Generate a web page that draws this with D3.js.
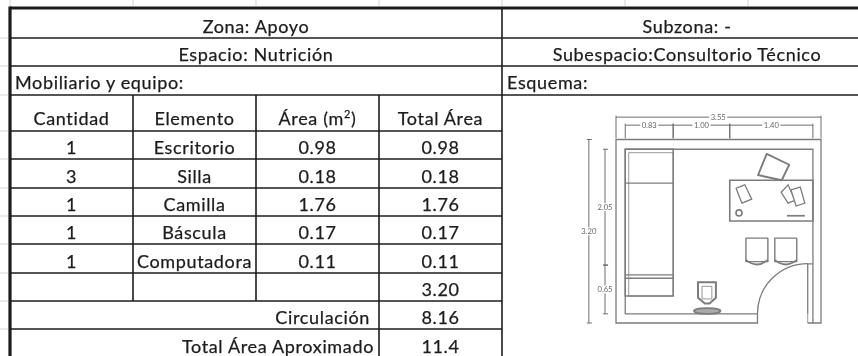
<!DOCTYPE html>
<html>
<head>
<meta charset="utf-8">
<script src="https://cdn.jsdelivr.net/npm/d3@7"></script>
<style>
  html, body { margin: 0; padding: 0; background: #fff; overflow: hidden; }
  svg { display: block; filter: blur(0.55px); font-family: Lato, "Open Sans", sans-serif; }
</style>
</head>
<body>
<div id="chart"></div>
<script>
// table content
const headers = ['Cantidad', 'Elemento', 'Área (m²)', 'Total Área'];
const cantidades = ['1', '3', '1', '1', '1', '', '', ''];
const elementos = ['Escritorio', 'Silla', 'Camilla', 'Báscula', 'Computadora', '', '', ''];
const areas = ['0.98', '0.18', '1.76', '0.17', '0.11', '', '', ''];
const totales = ['0.98', '0.18', '1.76', '0.17', '0.11', '3.20', '8.16', '11.4'];
const rowNames = ['zona', 'espacio', 'mobiliario', 'head', 'r0', 'r1', 'r2', 'r3', 'r4', 'r5', 'r6', 'r7'];
const rowBottoms = [38, 66, 95, 131, 159, 188, 216, 244, 273, 301, 329, 358];

// floor plan, everything in metres from the outer wall corner
const bedLines = [0.76, 2.36, 2.42];
const chairBack = [[2.61, 0.25], [3.00, 0.44], [2.87, 0.71], [2.46, 0.62]];
const tablet = [[2.08, 0.85], [2.23, 0.79], [2.35, 1.04], [2.18, 1.11]];
const paperBack = [[2.86, 0.92], [2.98, 0.79], [3.10, 1.06], [2.98, 1.11]];
const paperFront = [[3.03, 0.88], [3.19, 0.83], [3.27, 1.11], [3.12, 1.16]];
const seats = [[2.25, 2.63], [2.75, 3.13]];
const scaleBody = [[1.42, 2.49], [1.73, 2.49], [1.73, 2.76], [1.62, 2.86], [1.54, 2.86], [1.42, 2.76]];
const scaleInner = [[1.49, 2.56], [1.66, 2.56], [1.66, 2.78], [1.49, 2.78]];
const topDims = [[0.16, 0.99, '0.83'], [0.99, 1.97, '1.00'], [1.97, 3.41, '1.40']];
const sideDims = [[0.17, 2.19, '2.05'], [2.19, 3.04, '0.65']];

const width = 858, height = 356;
const LEFT = 10, SPLIT = 502, TOP = 8;
const INK = '#1c1c1c', PLAN = '#7c7c7c';

const svg = d3.select('#chart').append('svg').attr('width', width).attr('height', height);

const xCol = d3.scaleBand().domain(headers).range([LEFT, SPLIT]);
const yBottom = d3.scaleOrdinal().domain(rowNames).range(rowBottoms);
const planX = d3.scaleLinear().domain([0, 3.55]).range([616, 821]);
const planY = d3.scaleLinear().domain([0, 3.20]).range([139.5, 323]);

// spreadsheet gridline stubs outside the table
const stubs = svg.append('g').attr('stroke', '#d4d4d4').attr('stroke-width', 1);
[LEFT, ...headers.slice(1).map(xCol), SPLIT, 625, 748].forEach((x) => {
  stubs.append('line').attr('x1', x).attr('x2', x).attr('y1', 0).attr('y2', TOP - 2);
});
rowBottoms.slice(0, 11).forEach((y) => {
  stubs.append('line').attr('x1', 0).attr('x2', LEFT - 2).attr('y1', y).attr('y2', y);
});

// table rules
const rules = svg.append('g').attr('stroke', INK).attr('stroke-width', 1.6);
function hline(y, x1, x2) {
  rules.append('line').attr('x1', x1).attr('x2', x2).attr('y1', y).attr('y2', y);
}
function vline(x, y1, y2) {
  rules.append('line').attr('x1', x).attr('x2', x).attr('y1', y1).attr('y2', y2);
}
['zona', 'espacio', 'mobiliario'].forEach((r) => hline(yBottom(r), LEFT, width));
['head', 'r0', 'r1', 'r2', 'r3', 'r4', 'r5', 'r6'].forEach((r) => hline(yBottom(r), LEFT, SPLIT));
headers.slice(1, 3).forEach((h) => vline(xCol(h), yBottom('mobiliario'), yBottom('r5')));
vline(xCol(headers[3]), yBottom('mobiliario'), height);
vline(SPLIT, TOP, height);
rules.append('line').attr('x1', LEFT).attr('x2', LEFT).attr('y1', TOP - 1.5).attr('y2', height).attr('stroke-width', 3.2);
rules.append('line').attr('x1', LEFT).attr('x2', width).attr('y1', TOP).attr('y2', TOP).attr('stroke-width', 3.2);

// table text
const labels = svg.append('g').attr('fill', INK).attr('stroke', INK).attr('stroke-width', 0.25)
  .attr('font-size', 18).attr('letter-spacing', 0.65);
function label(text, x, row, anchor = 'middle') {
  const off = ['mobiliario', 'head'].includes(row) ? 6.5 : 5.5;
  return labels.append('text').attr('x', x).attr('y', yBottom(row) - off)
    .attr('text-anchor', anchor).text(text);
}
const colMid = (h) => xCol(h) + xCol.bandwidth() / 2;

label('Zona: Apoyo', (LEFT + SPLIT) / 2, 'zona');
label('Espacio: Nutrición', (LEFT + SPLIT) / 2, 'espacio');
label('Mobiliario y equipo:', 15, 'mobiliario', 'start');
label('Subzona: -', 687, 'zona');
label('Subespacio:Consultorio Técnico', 687, 'espacio');
label('Esquema:', 507, 'mobiliario', 'start');

headers.forEach((h) => {
  if (h.includes('²')) {
    const t = label('', colMid(h), 'head');
    t.append('tspan').text('Área (m');
    t.append('tspan').attr('dy', -7).attr('font-size', 11).text('2');
    t.append('tspan').attr('dy', 7).text(')');
  } else {
    label(h, colMid(h), 'head');
  }
});
[cantidades, elementos, areas, totales].forEach((col, i) => {
  col.forEach((v, j) => { if (v) label(v, colMid(headers[i]), `r${j}`); });
});
label('Circulación', 370, 'r6', 'end');
label('Total Área Aproximado', 374, 'r7', 'end');

// floor plan
const plan = svg.append('g').attr('fill', 'none').attr('stroke', PLAN).attr('stroke-width', 1.3);
const polyline = d3.line().x((d) => planX(d[0])).y((d) => planY(d[1]));
function path(points, closed = false) {
  return plan.append('path').attr('d', polyline(points) + (closed ? 'Z' : ''));
}
function box(x1, y1, x2, y2) {
  return path([[x1, y1], [x2, y1], [x2, y2], [x1, y2]], true);
}

// walls, open at the door
path([[3.32, 3.20], [3.55, 3.20], [3.55, 0], [0, 0], [0, 3.20], [2.45, 3.20], [2.45, 3.04], [0.16, 3.04], [0.16, 0.17], [3.41, 0.17], [3.41, 3.20]]);
path([[3.32, 3.04], [3.32, 2.17], [3.41, 2.17]]);
path([[3.32, 3.20], [3.32, 3.04]]).attr('stroke-width', 0.8);

// door swing
const door = d3.path();
const doorRadius = planX(0.87) - planX(0);
door.arc(planX(3.32), planY(3.04), doorRadius, Math.PI, Math.PI * 1.5);
plan.append('path').attr('d', door.toString());

// bed
box(0.16, 0.17, 0.99, 2.73).attr('stroke-width', 1.5);
box(0.22, 0.23, 0.99, 2.73).attr('stroke-width', 0.8);
bedLines.forEach((y) => path([[0.16, y], [0.99, y]]));

// desk and what sits on it
box(1.97, 0.71, 3.41, 1.42).attr('stroke-width', 1.6);
path(chairBack, true).attr('stroke-width', 1.9).attr('stroke-linejoin', 'round');
path(tablet, true);
path(paperBack, true);
path(paperFront, true).attr('fill', '#fff');
plan.append('circle').attr('cx', planX(2.13)).attr('cy', planY(1.28)).attr('r', 3).attr('stroke-width', 1.6);
path([[2.96, 1.33], [3.27, 1.33]]).attr('stroke-width', 1.7);

// visitor seats
seats.forEach(([a, b]) => {
  box(a, 1.72, b, 2.13).attr('stroke-linejoin', 'round').attr('stroke-width', 1.4);
  const lip = d3.path();
  lip.moveTo(planX(a), planY(2.10));
  lip.quadraticCurveTo(planX((a + b) / 2), planY(2.26), planX(b), planY(2.10));
  plan.append('path').attr('d', lip.toString()).attr('stroke-width', 1.8);
});

// weighing scale
path(scaleBody, true).attr('stroke-width', 2);
path(scaleInner, true).attr('stroke-width', 0.8);
plan.append('ellipse').attr('cx', planX(1.58)).attr('cy', planY(2.99))
  .attr('rx', planX(0.23) - planX(0)).attr('ry', planY(0.05) - planY(0))
  .attr('stroke-width', 1.6).attr('fill', '#aaa');

// dimension lines
const dims = svg.append('g').attr('stroke', '#6e6e6e').attr('stroke-width', 1).attr('fill', 'none');
function dimLabel(x, y, text) {
  svg.append('rect').attr('x', x - 9).attr('y', y - 4).attr('width', 18).attr('height', 8).attr('fill', '#fff');
  svg.append('text').attr('x', x).attr('y', y + 2.6).attr('fill', '#666').attr('font-size', 7.6)
    .attr('text-anchor', 'middle').text(text);
}
function dimH(x1, x2, y, text, at = (x1 + x2) / 2) {
  dims.append('line').attr('x1', planX(x1)).attr('x2', planX(x2)).attr('y1', planY(y)).attr('y2', planY(y));
  [x1, x2].forEach((x) => {
    dims.append('line').attr('x1', planX(x)).attr('x2', planX(x)).attr('y1', planY(y) - 1.5).attr('y2', planY(-0.02));
  });
  dimLabel(planX(at), planY(y), text);
}
function dimV(y1, y2, x, text, at = (y1 + y2) / 2) {
  dims.append('line').attr('x1', planX(x)).attr('x2', planX(x)).attr('y1', planY(y1)).attr('y2', planY(y2));
  [y1, y2].forEach((y) => {
    dims.append('line').attr('x1', planX(x) - 2).attr('x2', planX(x) + 3).attr('y1', planY(y)).attr('y2', planY(y));
  });
  dimLabel(planX(x), planY(at), text);
}
dimH(0, 3.55, -0.39, '3.55', 1.77);
topDims.forEach(([a, b, t]) => dimH(a, b, -0.25, t));
dimV(0, 3.20, -0.47, '3.20', 1.60);
sideDims.forEach(([a, b, t]) => dimV(a, b, -0.19, t));
</script>
</body>
</html>
